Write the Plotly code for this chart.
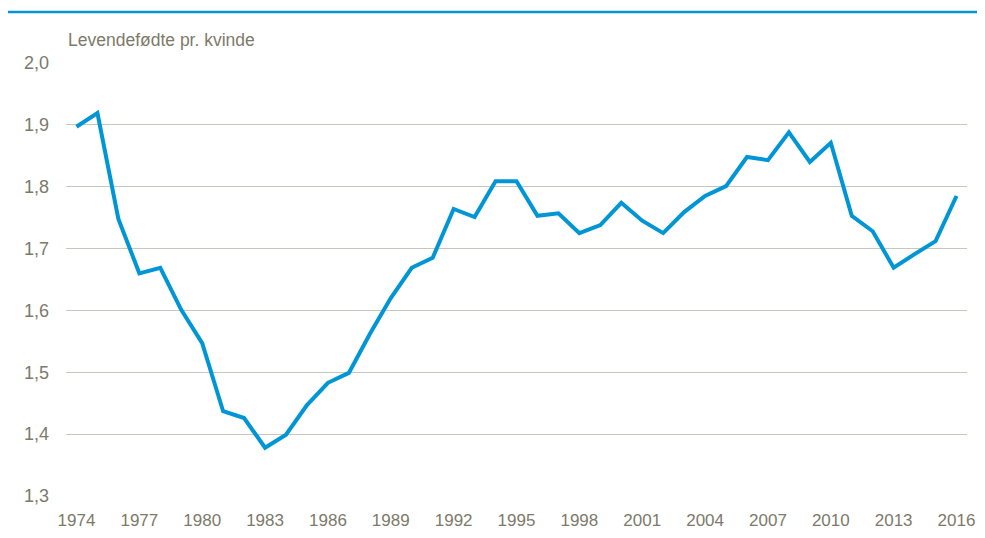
import plotly.graph_objects as go

years = list(range(1974, 2017))
fertility = [1.897, 1.919, 1.748, 1.660, 1.669, 1.601, 1.547, 1.437, 1.426, 1.378,
             1.399, 1.447, 1.483, 1.499, 1.562, 1.620, 1.669, 1.685, 1.764, 1.751,
             1.809, 1.809, 1.753, 1.757, 1.725, 1.738, 1.774, 1.745, 1.725, 1.759,
             1.785, 1.801, 1.848, 1.843, 1.888, 1.840, 1.871, 1.753, 1.728, 1.669,
             1.691, 1.712, 1.785]
tick_years = list(range(1974, 2017, 3))
y_ticks = [1.3, 1.4, 1.5, 1.6, 1.7, 1.8, 1.9, 2.0]

FONT = "Liberation Sans, Arial, sans-serif"
TXT = "#7d7a6b"
GRID = "#c9c6bb"
BLUE = "#0096d6"

# page body has an 8px default margin, so the figure is offset by 8px
OFF = 8
W, H = 985 - OFF, 538 - OFF
L, R, T, B = 66 - OFF, 18, 63 - OFF, 42

fig = go.Figure()
fig.add_trace(go.Scatter(x=years, y=fertility, mode="lines",
                         line=dict(color=BLUE, width=4), hoverinfo="x+y"))

fig.update_layout(
    width=W, height=H,
    margin=dict(l=L, r=R, t=T, b=B),
    paper_bgcolor="white", plot_bgcolor="white",
    separators=", ",
    showlegend=False,
    font=dict(family=FONT, color=TXT, size=18),
    xaxis=dict(range=[1973.5, 2016.5], tickvals=tick_years, showgrid=False,
               zeroline=False, showline=False, ticks="", automargin=False,
               tickfont=dict(size=17, color=TXT), ticklabelstandoff=12),
    yaxis=dict(range=[1.3, 2.0], tickvals=y_ticks, tickformat=".1f",
               showgrid=True, gridcolor=GRID, gridwidth=1.4, zeroline=False,
               showline=False, ticks="", automargin=False,
               tickfont=dict(size=18, color=TXT), ticklabelstandoff=16),
)

pw = W - L - R
ph = H - T - B
top_line_y = 12 - OFF
fig.add_shape(type="line", xref="paper", yref="paper",
              x0=(0 - L) / pw, x1=(W - L) / pw,
              y0=(H - B - top_line_y) / ph, y1=(H - B - top_line_y) / ph,
              line=dict(color=BLUE, width=2.5))
fig.add_annotation(text="Levendefødte pr. kvinde", xref="paper", yref="paper",
                   x=0, y=(H - B - (40 - OFF)) / ph, xanchor="left",
                   yanchor="middle", showarrow=False,
                   font=dict(family=FONT, size=17.5, color=TXT))

fig.write_html("out.html")
